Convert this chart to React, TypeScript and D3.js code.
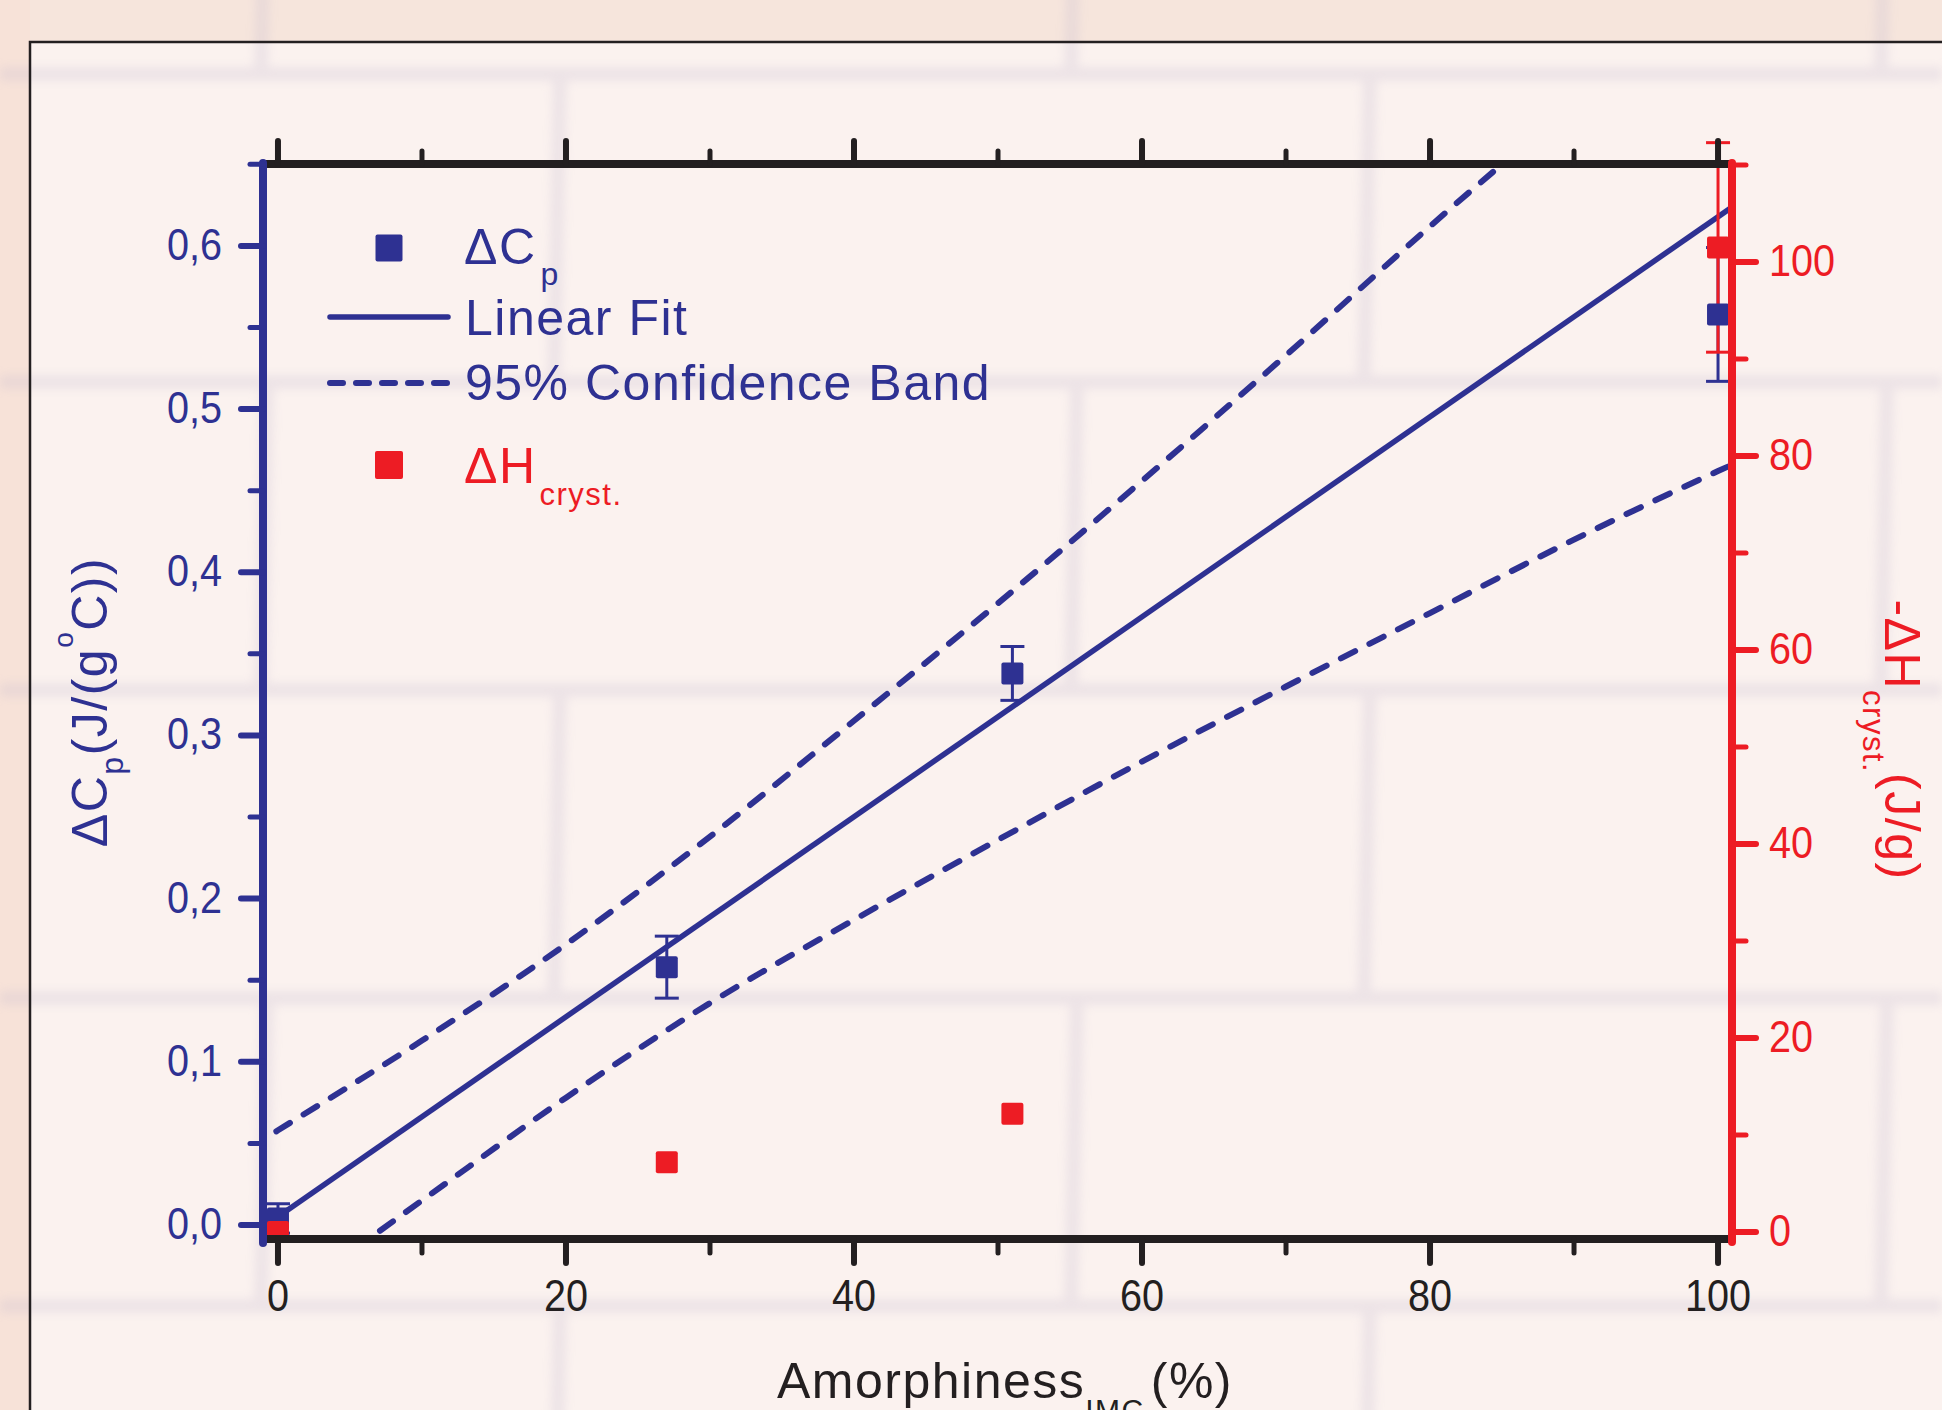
import React from "react";
import * as d3 from "d3";

// values
const amorphiness = [0, 27, 51, 100];
const deltaCp = [0.004, 0.158, 0.338, 0.558];
const deltaCpErr = [0.009, 0.019, 0.0165, 0.041];
const deltaH = [0, 7.2, 12.2, 101.5];
const deltaHErr = [0, 0, 0, 10.8];

const fitX = [0, 101];
const fitY = [0.005, 0.624];

const bandX = [-2, 0, 10, 20, 30, 40, 50, 60, 70, 80, 90, 100, 102];
const bandUpper = [0.047, 0.058, 0.113, 0.172, 0.238, 0.309, 0.381, 0.456, 0.533, 0.612, 0.688, 0.766, 0.781];
const bandLower = [-0.06, -0.048, 0.015, 0.078, 0.136, 0.187, 0.236, 0.284, 0.33, 0.375, 0.42, 0.462, 0.47];

const xTicks = [0, 20, 40, 60, 80, 100];
const xMinor = [10, 30, 50, 70, 90];
const cpTicks = [0, 0.1, 0.2, 0.3, 0.4, 0.5, 0.6];
const cpMinor = [0.05, 0.15, 0.25, 0.35, 0.45, 0.55, 0.65];
const hTicks = [0, 20, 40, 60, 80, 100];
const hMinor = [10, 30, 50, 70, 90, 110];

const W = 1942, H = 1410;
const PL = 263, PR = 1732, PT = 164, PB = 1239;
const BLUE = "#2e3192", RED = "#ed1c24", INK = "#231f20";
const FONT = "'Liberation Sans', Arial, Helvetica, sans-serif";
const DASH = "16 16";

// tick label in the slightly condensed face of the original
const Tick = ({ x, y, anchor, fill, children }) => (
    <text transform={`translate(${x},${y}) scale(0.9,1)`} textAnchor={anchor} fill={fill} fontSize={44}>{children}</text>
);

const App = () => {
    const x = d3.scaleLinear().domain([-1.04, 100.97]).range([PL, PR]);
    const yCp = d3.scaleLinear().domain([-0.0086, 0.6502]).range([PB, PT]);
    const yH = d3.scaleLinear().domain([-0.72, 110.1]).range([PB, PT]);
    const fmtCp = (v) => d3.format(".1f")(v).replace(".", ",");

    const line = d3.line().x(d => x(d[0])).y(d => yCp(d[1])).curve(d3.curveMonotoneX);
    const upperPath = line(bandX.map((v, i) => [v, bandUpper[i]]));
    const lowerPath = line(bandX.map((v, i) => [v, bandLower[i]]));
    const fitPath = line(fitX.map((v, i) => [v, fitY[i]]));

    // brick wall behind the figure
    const rowH = 308, brickW = 810;
    const bricks = [];
    d3.range(-1, 5).forEach(k => {
        const y0 = 74 + k * rowH;
        bricks.push(<line key={"h" + k} x1={0} x2={W} y1={y0} y2={y0} />);
        const off = k % 2 === 0 ? 560 : 267;
        d3.range(-1, 4).forEach(j => {
            const xx = off + j * brickW;
            bricks.push(<line key={"v" + k + "_" + j} x1={xx} x2={xx - 6} y1={y0} y2={y0 + rowH} />);
        });
    });

    const sq = 22;

    return (
        <div style={{ position: "absolute", left: 0, top: 0 }}>
            <svg width={W} height={H} style={{ display: "block", fontFamily: FONT }}>
                <defs>
                    <clipPath id="plotClip">
                        <rect x={PL} y={PT} width={PR - PL} height={PB - PT} />
                    </clipPath>
                    <filter id="soft" x="-5%" y="-5%" width="110%" height="110%">
                        <feGaussianBlur stdDeviation="5" />
                    </filter>
                </defs>

                <rect width={W} height={H} fill="#fbf2ef" />
                <rect x={0} y={0} width={W} height={42} fill="#f6e5dc" />
                <rect x={0} y={0} width={30} height={H} fill="#f7e2d8" />
                <g stroke="#c4b9cf" strokeWidth={14} opacity={0.25} filter="url(#soft)">
                    {bricks}
                </g>

                {/* frame */}
                <path d={`M${W},42H30V${H}`} fill="none" stroke={INK} strokeWidth={2.5} />

                {/* fit and confidence band */}
                <g clipPath="url(#plotClip)" fill="none" stroke={BLUE}>
                    <path d={fitPath} strokeWidth={5.5} />
                    <path d={upperPath} strokeWidth={6} strokeDasharray={DASH} strokeLinecap="round" />
                    <path d={lowerPath} strokeWidth={6} strokeDasharray={DASH} strokeLinecap="round" />
                </g>

                {/* error bars */}
                <g stroke={BLUE} strokeWidth={3}>
                    {amorphiness.map((a, i) => (
                        <g key={"eb" + i}>
                            <line x1={x(a)} x2={x(a)} y1={yCp(deltaCp[i] - deltaCpErr[i])} y2={yCp(deltaCp[i] + deltaCpErr[i])} />
                            <line x1={x(a) - 12} x2={x(a) + 12} y1={yCp(deltaCp[i] - deltaCpErr[i])} y2={yCp(deltaCp[i] - deltaCpErr[i])} />
                            <line x1={x(a) - 12} x2={x(a) + 12} y1={yCp(deltaCp[i] + deltaCpErr[i])} y2={yCp(deltaCp[i] + deltaCpErr[i])} />
                        </g>
                    ))}
                </g>
                <g stroke={RED} strokeWidth={3}>
                    {amorphiness.map((a, i) => deltaHErr[i] > 0 && (
                        <g key={"ebh" + i}>
                            <line x1={x(a)} x2={x(a)} y1={yH(deltaH[i] - deltaHErr[i])} y2={yH(deltaH[i] + deltaHErr[i])} />
                            <line x1={x(a) - 12} x2={x(a) + 12} y1={yH(deltaH[i] - deltaHErr[i])} y2={yH(deltaH[i] - deltaHErr[i])} />
                            <line x1={x(a) - 12} x2={x(a) + 12} y1={yH(deltaH[i] + deltaHErr[i])} y2={yH(deltaH[i] + deltaHErr[i])} />
                        </g>
                    ))}
                </g>

                {/* markers */}
                {amorphiness.map((a, i) => (
                    <rect key={"cp" + i} x={x(a) - sq / 2} y={yCp(deltaCp[i]) - sq / 2} width={sq} height={sq} rx={2} fill={BLUE} />
                ))}
                {amorphiness.map((a, i) => (
                    <rect key={"h" + i} x={x(a) - sq / 2} y={yH(deltaH[i]) - sq / 2} width={sq} height={sq} rx={2} fill={RED} />
                ))}

                {/* top and bottom axes */}
                <g stroke={INK} strokeLinecap="round">
                    <line x1={PL} x2={PR} y1={PB} y2={PB} strokeWidth={8} strokeLinecap="butt" />
                    <line x1={PL} x2={PR} y1={PT} y2={PT} strokeWidth={8} strokeLinecap="butt" />
                    {xTicks.map(t => (
                        <g key={"xt" + t} strokeWidth={6}>
                            <line x1={x(t)} x2={x(t)} y1={PB} y2={PB + 24} />
                            <line x1={x(t)} x2={x(t)} y1={PT} y2={PT - 23} />
                        </g>
                    ))}
                    {xMinor.map(t => (
                        <g key={"xm" + t} strokeWidth={5}>
                            <line x1={x(t)} x2={x(t)} y1={PB} y2={PB + 14} />
                            <line x1={x(t)} x2={x(t)} y1={PT} y2={PT - 13} />
                        </g>
                    ))}
                </g>
                {xTicks.map(t => (
                    <Tick key={"xl" + t} x={x(t)} y={1311} anchor="middle" fill={INK}>{t}</Tick>
                ))}

                {/* left axis */}
                <g stroke={BLUE} strokeLinecap="round">
                    <line x1={PL} x2={PL} y1={PT - 1} y2={PB + 4} strokeWidth={8} />
                    {cpTicks.map(t => (
                        <line key={"ct" + t} x1={PL} x2={PL - 22} y1={yCp(t)} y2={yCp(t)} strokeWidth={6} />
                    ))}
                    {cpMinor.map(t => (
                        <line key={"cm" + t} x1={PL} x2={PL - 13} y1={yCp(t)} y2={yCp(t)} strokeWidth={5} />
                    ))}
                </g>
                {cpTicks.map(t => (
                    <Tick key={"cl" + t} x={222} y={yCp(t) + 14} anchor="end" fill={BLUE}>{fmtCp(t)}</Tick>
                ))}

                {/* right axis */}
                <g stroke={RED} strokeLinecap="round">
                    <line x1={PR} x2={PR} y1={PT - 1} y2={PB + 3} strokeWidth={8} />
                    {hTicks.map(t => (
                        <line key={"ht" + t} x1={PR} x2={PR + 24} y1={yH(t)} y2={yH(t)} strokeWidth={6} />
                    ))}
                    {hMinor.map(t => (
                        <line key={"hm" + t} x1={PR} x2={PR + 14} y1={yH(t)} y2={yH(t)} strokeWidth={5} />
                    ))}
                </g>
                {hTicks.map(t => (
                    <Tick key={"hl" + t} x={1769} y={yH(t) + 14} anchor="start" fill={RED}>{t}</Tick>
                ))}

                {/* axis titles */}
                <text x={1005} y={1398} fontSize={50} fill={INK} textAnchor="middle" letterSpacing={1.5}>
                    Amorphiness<tspan dy={22} fontSize={30}>IMC</tspan><tspan dy={-22} dx={6}>(%)</tspan>
                </text>
                <text transform="translate(107,702) rotate(-90)" fontSize={50} fill={BLUE} textAnchor="middle" letterSpacing={1.5}>
                    ΔC<tspan dy={16} fontSize={32}>p</tspan><tspan dy={-16}>(J/(g</tspan><tspan dy={-34} fontSize={28}>o</tspan><tspan dy={34}>C))</tspan>
                </text>
                <text transform="translate(1885,740) rotate(90)" fontSize={50} fill={RED} textAnchor="middle" letterSpacing={1.5}>
                    -ΔH<tspan dy={22} fontSize={31}>cryst.</tspan><tspan dy={-22}>(J/g)</tspan>
                </text>

                {/* legend */}
                <g fontSize={50} letterSpacing={1.5}>
                    <rect x={389 - 13.5} y={248 - 13.5} width={27} height={27} rx={2} fill={BLUE} />
                    <text x={464} y={264} fill={BLUE}>ΔC<tspan dx={4} dy={21} fontSize={32}>p</tspan></text>
                    <line x1={330} x2={448} y1={317} y2={317} stroke={BLUE} strokeWidth={5.5} strokeLinecap="round" />
                    <text x={465} y={335} fill={BLUE}>Linear Fit</text>
                    <line x1={330} x2={448} y1={383} y2={383} stroke={BLUE} strokeWidth={6} strokeLinecap="round" strokeDasharray="13 13" />
                    <text x={465} y={400} fill={BLUE}>95% Confidence Band</text>
                    <rect x={389 - 14} y={465 - 14} width={28} height={28} rx={2} fill={RED} />
                    <text x={464} y={483} fill={RED}>ΔH<tspan dx={3} dy={22} fontSize={31}>cryst.</tspan></text>
                </g>
            </svg>
        </div>
    );
};

export default App;
